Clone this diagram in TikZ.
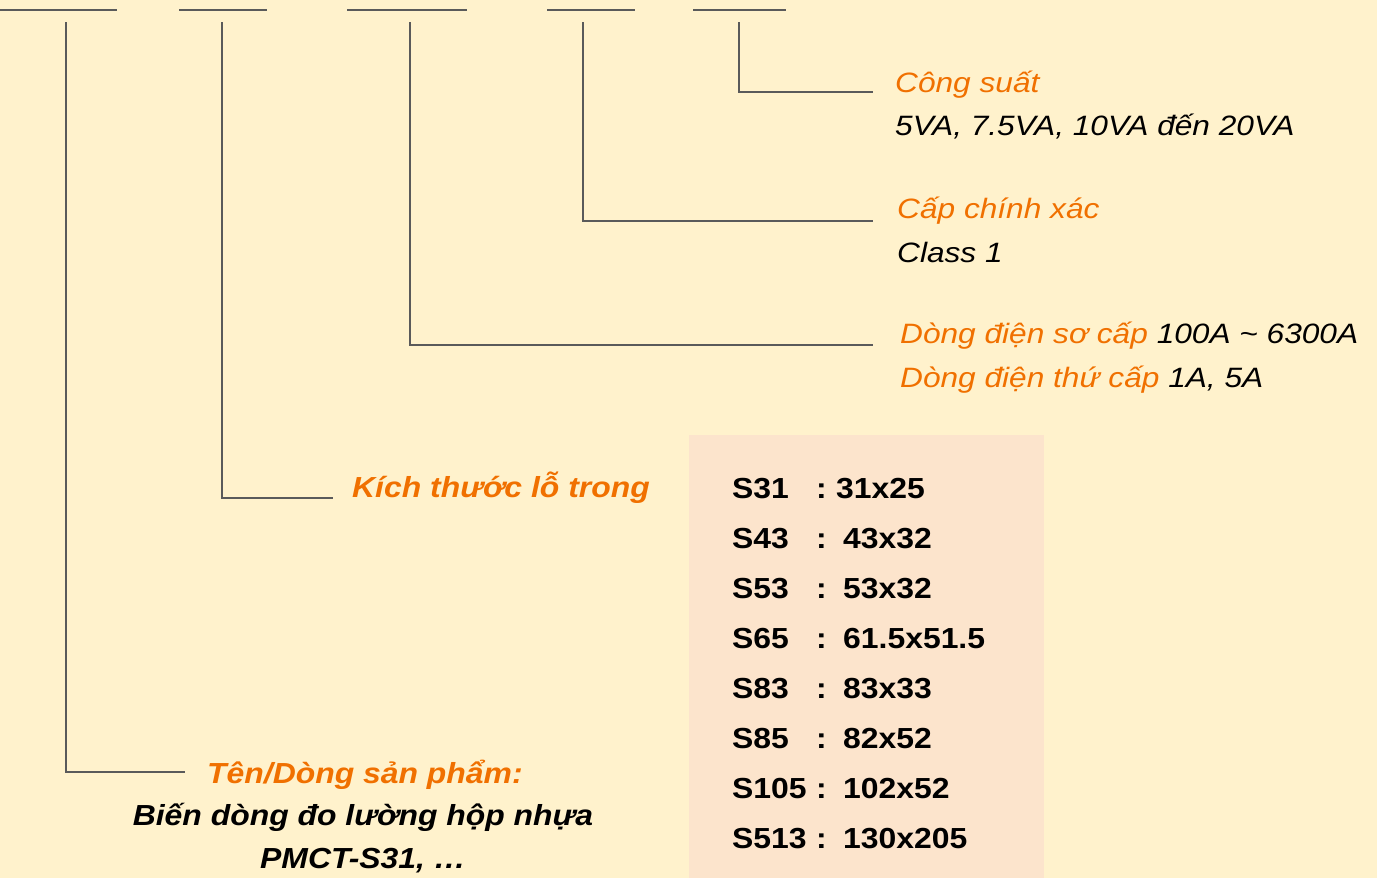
\documentclass[tikz,border=0pt]{standalone}
\usepackage{fontspec}
\setmainfont{Liberation Sans}
\newfontfamily\widereg[FakeStretch=1.13]{Liberation Sans}
\newfontfamily\widebold[FakeStretch=1.10]{Liberation Sans}
\definecolor{bgcream}{RGB}{255,242,204}
\definecolor{boxpeach}{RGB}{252,228,204}
\definecolor{orangetxt}{RGB}{240,112,0}
\definecolor{linegray}{RGB}{90,90,90}
\tikzset{
  lbl/.style={anchor=base west, inner sep=0pt, font=\widereg\fontsize{28}{34}\selectfont\itshape},
  olbl/.style={lbl, text=orangetxt},
  bolbl/.style={anchor=base west, inner sep=0pt, text=orangetxt, font=\widebold\fontsize{29}{34}\selectfont\bfseries\itshape},
  blbl/.style={anchor=base, inner sep=0pt, font=\widebold\fontsize{29}{34}\selectfont\bfseries\itshape},
  tbl/.style={anchor=base west, inner sep=0pt, font=\widebold\fontsize{29}{34}\selectfont\bfseries},
  conn/.style={draw=linegray, line width=2pt},
  topbar/.style={draw=linegray, line width=2.2pt},
}
\begin{document}
\begin{tikzpicture}[x=1pt,y=-1pt]
\fill[bgcream] (0,0) rectangle (1377,878);
\useasboundingbox (0,0) rectangle (1377,878);
\fill[boxpeach] (689,435) rectangle (1044,878);
% top bars
\draw[topbar] (0,10) -- (117,10);
\draw[topbar] (179,10) -- (267,10);
\draw[topbar] (347,10) -- (467,10);
\draw[topbar] (547,10) -- (635,10);
\draw[topbar] (693,10) -- (786,10);
% connector start points
\coordinate (t1) at (66,22);
\coordinate (t2) at (222,22);
\coordinate (t3) at (410,22);
\coordinate (t4) at (583,22);
\coordinate (t5) at (739,22);
\coordinate (e1) at (185,772);
\coordinate (e2) at (333,498);
\coordinate (e3) at (873,345);
\coordinate (e4) at (873,221);
\coordinate (e5) at (873,92);
\draw[conn] (t1) |- (e1);
\draw[conn] (t2) |- (e2);
\draw[conn] (t3) |- (e3);
\draw[conn] (t4) |- (e4);
\draw[conn] (t5) |- (e5);
% right labels
\node[olbl] (cs) at (895,92) {Công suất};
\node[lbl] (csv) at (895,135) {5VA, 7.5VA, 10VA đến 20VA};
\node[olbl] (cx) at (897,218) {Cấp chính xác};
\node[lbl] (cxv) at (897,262) {Class 1};
\node[lbl] (dsc) at (900,343) {\textcolor{orangetxt}{Dòng điện sơ cấp} 100A \char"007E{} 6300A};
\node[lbl] (dtc) at (900,387) {\textcolor{orangetxt}{Dòng điện thứ cấp} 1A, 5A};
% size label
\node[bolbl] (kt) at (352,497) {Kích thước lỗ trong};
% table
\foreach \n/\v/\yy/\vx in {S31/31x25/498/836, S43/43x32/548/843, S53/53x32/598/843, S65/61.5x51.5/648/843, S83/83x33/698/843, S85/82x52/748/843, S105/102x52/798/843, S513/130x205/848/843}{
  \node[tbl] (n\n) at (732,\yy) {\n};
  \node[tbl] (c\n) at (816,\yy) {:};
  \node[tbl] (v\n) at (\vx,\yy) {\v};
}
% product name
\node[bolbl] (ten) at (207,783) {Tên/Dòng sản phẩm:};
\node[blbl] (bd) at (363,825) {Biến dòng đo lường hộp nhựa};
\node[blbl] (pm) at (363,868) {PMCT-S31, …};
\end{tikzpicture}
\end{document}
